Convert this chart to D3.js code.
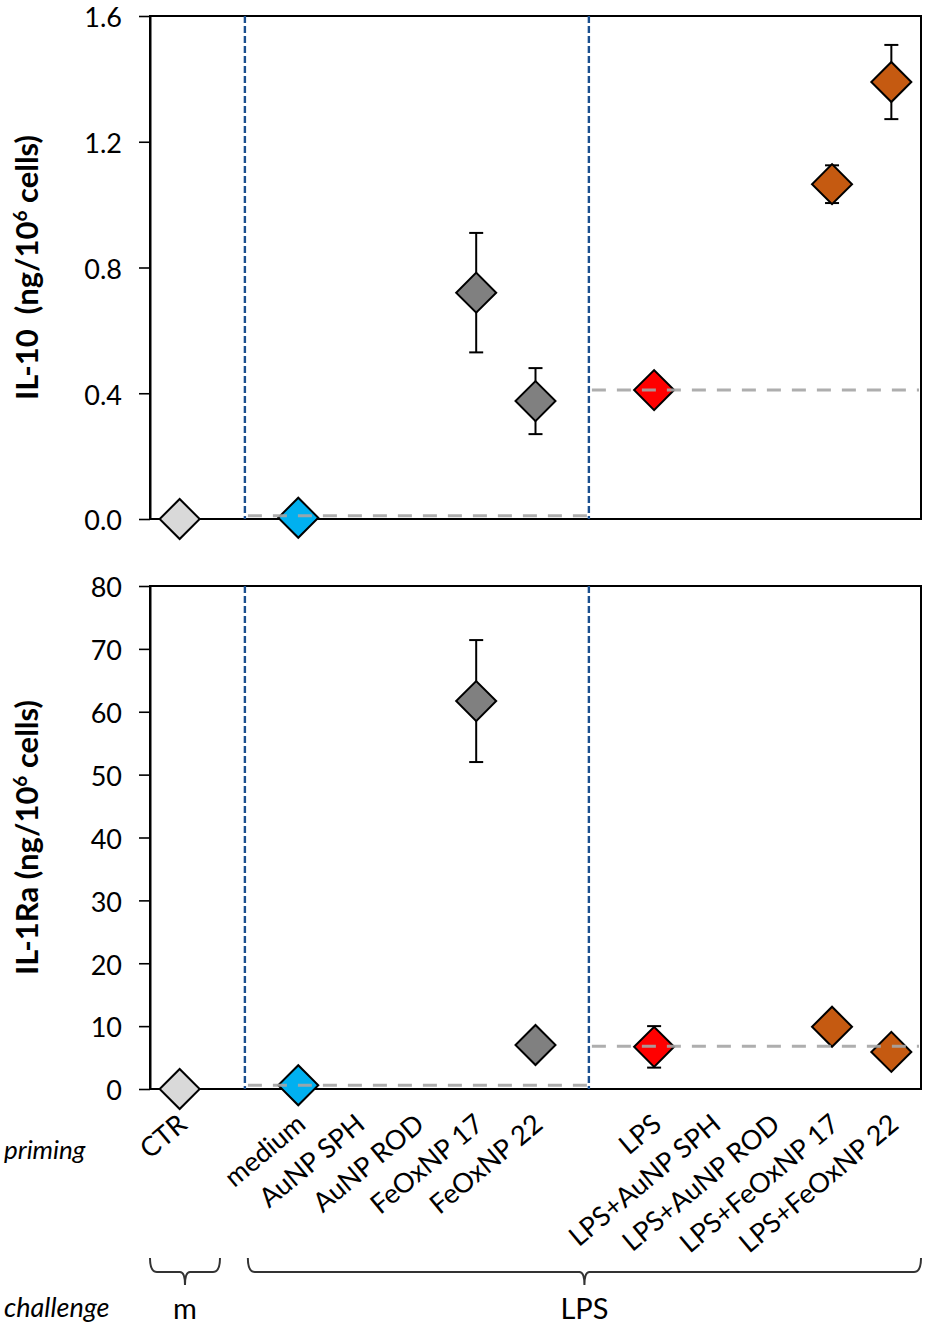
<!DOCTYPE html>
<html>
<head>
<meta charset="utf-8">
<script src="https://cdn.jsdelivr.net/npm/d3@7"></script>
<style>
  body { margin: 0; background: #fff; }
  text { font-family: Lato, "Open Sans", sans-serif; fill: #000; white-space: pre; }
</style>
</head>
<body>
<svg id="chart"></svg>
<script>
// x slots (two empty slots separate the groups)
const slots = ["CTR", "gap1", "medium", "AuNP SPH", "AuNP ROD", "FeOxNP 17", "FeOxNP 22",
  "gap2", "LPS", "LPS+AuNP SPH", "LPS+AuNP ROD", "LPS+FeOxNP 17", "LPS+FeOxNP 22"];
const primingLabels = slots.filter(s => !s.startsWith("gap"));

// measured groups
const categories = ["CTR", "medium", "FeOxNP 17", "FeOxNP 22", "LPS", "LPS+FeOxNP 17", "LPS+FeOxNP 22"];
const markerColors = ["#d9d9d9", "#00b0f0", "#808080", "#808080", "#ff0000", "#c55a11", "#c55a11"];

const il10Values = [0, 0.004, 0.72, 0.375, 0.41, 1.065, 1.39];
const il10Errors = [0, 0, 0.19, 0.105, 0, 0.06, 0.118];
const il10Refs = [0.01, 0.41];          // medium and LPS baselines
const il10Ticks = [0, 0.4, 0.8, 1.2, 1.6];

const il1raValues = [0, 0.6, 61.7, 7.0, 6.7, 9.9, 5.9];
const il1raErrors = [0, 0, 9.7, 0, 3.3, 0, 0];
const il1raRefs = [0.6, 6.8];
const il1raTicks = [0, 10, 20, 30, 40, 50, 60, 70, 80];

const challengeGroups = ["m", "LPS"];

const w = 945;
const h = 1329;
const left = 150;
const right = 921;

const svg = d3.select("#chart").attr("width", w).attr("height", h);

const x = d3.scalePoint().domain(slots).range([left, right]).padding(0.5);
// same axis in slot units, for things that sit between slots
const xIdx = d3.scaleLinear().domain([-0.5, slots.length - 0.5]).range([left, right]);

const dividerX = [xIdx(1.1), xIdx(6.9)];

function drawPanel({ top, bottom, max, ticks, fmt, values, errors, refs, title }) {
  const y = d3.scaleLinear().domain([0, max]).range([bottom, top]);
  const g = svg.append("g");

  // frame
  g.append("rect")
    .attr("x", left).attr("y", top)
    .attr("width", right - left).attr("height", bottom - top)
    .attr("fill", "none").attr("stroke", "#000").attr("stroke-width", 2);

  // y axis
  const axis = g.append("g")
    .attr("transform", "translate(" + left + ",0)")
    .call(d3.axisLeft(y).tickValues(ticks).tickSize(11).tickSizeOuter(0).tickPadding(17).tickFormat(fmt));
  axis.select(".domain").attr("stroke-width", 2);
  axis.selectAll(".tick line").attr("stroke-width", 1.6);
  axis.selectAll(".tick text")
    .attr("dy", "0.4em")
    .style("font-family", "Lato").style("font-size", "27px").attr("fill", "#000");

  // y title
  const t = g.append("text")
    .attr("transform", "translate(38," + (top + bottom) / 2 + ") rotate(-90)")
    .attr("text-anchor", "middle")
    .style("font-size", "31px").style("font-weight", "bold");
  t.append("tspan").text(title[0]);
  t.append("tspan").text("6").style("font-size", "19px").attr("dy", -11);
  t.append("tspan").text(title[1]).attr("dy", 11);

  // group dividers
  g.selectAll("line.divider")
    .data(dividerX)
    .enter()
    .append("line")
    .attr("class", "divider")
    .attr("x1", d => d).attr("x2", d => d)
    .attr("y1", top).attr("y2", bottom)
    .attr("stroke", "#1a4f8f").attr("stroke-width", 2.4)
    .attr("stroke-dasharray", "7,3");

  const pts = categories.map((c, i) => ({ c, v: values[i], e: errors[i], color: markerColors[i] }));

  // error bars
  const eb = g.selectAll("g.err")
    .data(pts.filter(d => d.e > 0))
    .enter()
    .append("g")
    .attr("stroke", "#000").attr("stroke-width", 2);
  eb.append("line")
    .attr("x1", d => x(d.c)).attr("x2", d => x(d.c))
    .attr("y1", d => y(d.v + d.e)).attr("y2", d => y(d.v - d.e));
  [1, -1].forEach(s => {
    eb.append("line")
      .attr("x1", d => x(d.c) - 7).attr("x2", d => x(d.c) + 7)
      .attr("y1", d => y(d.v + s * d.e)).attr("y2", d => y(d.v + s * d.e));
  });

  // diamonds
  g.selectAll("path.pt")
    .data(pts)
    .enter()
    .append("path")
    .attr("class", "pt")
    .attr("d", d3.symbol(d3.symbolSquare, 800))
    .attr("transform", d => "translate(" + x(d.c) + "," + y(d.v) + ") rotate(45)")
    .attr("fill", d => d.color)
    .attr("stroke", "#000").attr("stroke-width", 2);

  // baselines: medium level across NP-only group, LPS level across LPS group
  const spans = [[dividerX[0], dividerX[1]], [dividerX[1], right]];
  g.selectAll("line.ref")
    .data(refs)
    .enter()
    .append("line")
    .attr("class", "ref")
    .attr("x1", (d, i) => spans[i][0] + 3).attr("x2", (d, i) => spans[i][1] - 2)
    .attr("y1", d => y(d)).attr("y2", d => y(d))
    .attr("stroke", "#a6a6a6").attr("stroke-width", 3)
    .attr("stroke-dasharray", "14,11")
    .attr("opacity", 0.9);
}

drawPanel({
  top: 16, bottom: 519, max: 1.6, ticks: il10Ticks, fmt: d3.format(".1f"),
  values: il10Values, errors: il10Errors, refs: il10Refs,
  title: ["IL-10  (ng/10", " cells)"]
});

drawPanel({
  top: 586, bottom: 1089, max: 80, ticks: il1raTicks, fmt: d3.format("d"),
  values: il1raValues, errors: il1raErrors, refs: il1raRefs,
  title: ["IL-1Ra (ng/10", " cells)"]
});

// priming labels
svg.selectAll("text.prim")
  .data(primingLabels)
  .enter()
  .append("text")
  .attr("class", "prim")
  .attr("text-anchor", "end")
  .attr("transform", d => "translate(" + (x(d) + 9) + ",1127) rotate(-40)")
  .style("font-size", "27px")
  .text(d => d);

svg.append("text")
  .attr("x", 4).attr("y", 1159)
  .style("font-size", "26px").style("font-style", "italic")
  .text("priming");

svg.append("text")
  .attr("x", 4).attr("y", 1317)
  .style("font-size", "27px").style("font-style", "italic")
  .text("challenge");

// challenge braces
const braces = [[-0.5, 0.68], [1.15, 12.5]];
const yTop = 1258, yH = 1272, yStem = 1285;
braces.forEach((b, i) => {
  const x1 = xIdx(b[0]), x2 = xIdx(b[1]), mid = (x1 + x2) / 2;
  const p = d3.path();
  p.moveTo(x1, yTop);
  p.quadraticCurveTo(x1, yH, x1 + 7, yH);
  p.lineTo(mid - 5, yH);
  p.quadraticCurveTo(mid, yH, mid, yStem);
  p.moveTo(x2, yTop);
  p.quadraticCurveTo(x2, yH, x2 - 7, yH);
  p.lineTo(mid + 5, yH);
  p.quadraticCurveTo(mid, yH, mid, yStem);
  svg.append("path")
    .attr("d", p.toString())
    .attr("fill", "none").attr("stroke", "#333").attr("stroke-width", 2);
  svg.append("text")
    .attr("x", mid).attr("y", 1319)
    .attr("text-anchor", "middle")
    .style("font-size", "29px")
    .text(challengeGroups[i]);
});
</script>
</body>
</html>
